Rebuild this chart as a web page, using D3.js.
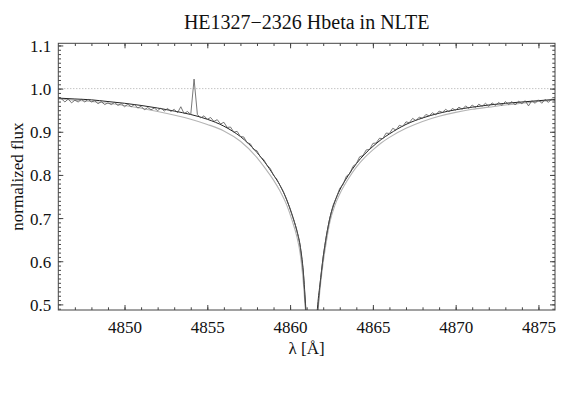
<!DOCTYPE html>
<html><head><meta charset="utf-8">
<script src="https://cdn.jsdelivr.net/npm/d3@7"></script>
<style>body{margin:0;background:#fff}svg{display:block}svg text{font-family:"Liberation Serif","Times New Roman",Times,serif !important}</style>
</head><body><div id="chart"></div>
<script>
// ---- data ----
const titleText = "HE1327\u22122326 Hbeta in NLTE";
const xLabel = "\u03bb [\u00c5]";
const yLabel = "normalized flux";
const xTicks = [4850, 4855, 4860, 4865, 4870, 4875];
const yTicks = [0.5, 0.6, 0.7, 0.8, 0.9, 1.0, 1.1];
const xDomain = [4846, 4876];
const yDomain = [0.487, 1.105];
const continuumLevel = 1.0;

// best-fit model (dark smooth line)
const modelWave = [4846,4847,4848,4849,4850,4851,4852,4853,4854,4855,4856,4856.5,4857,4857.5,4858,4858.5,4859,4859.4,4859.8,4860.1,4860.4,4860.6,4860.8,4860.95,4861.05,
  4861.55,4861.65,4861.8,4862.0,4862.2,4862.4,4862.7,4863.0,4863.5,4864.0,4864.5,4865.0,4865.5,4866,4867,4868,4869,4870,4871,4872,4873,4874,4875,4876];
const modelFlux = [0.978,0.976,0.974,0.970,0.966,0.961,0.955,0.948,0.940,0.929,0.913,0.902,0.889,0.872,0.852,0.828,0.800,0.775,0.742,0.710,0.672,0.638,0.575,0.490,0.430,
  0.430,0.490,0.545,0.610,0.660,0.700,0.738,0.765,0.798,0.826,0.848,0.866,0.882,0.895,0.917,0.932,0.943,0.951,0.957,0.962,0.966,0.969,0.972,0.975];

// comparison model (light grey line)
const altWave = [4846,4848,4850,4852,4854,4855,4856,4857,4858,4858.5,4859,4859.4,4859.8,4860.1,4860.4,4860.6,4860.8,4860.92,4861.02,
  4861.6,4861.7,4861.85,4862.0,4862.2,4862.4,4862.7,4863.0,4863.5,4864.0,4864.5,4865.0,4865.5,4866,4867,4868,4869,4870,4871,4872,4873,4874,4875,4876];
const altFlux = [0.976,0.970,0.961,0.947,0.929,0.917,0.902,0.878,0.840,0.815,0.788,0.762,0.730,0.697,0.658,0.620,0.550,0.490,0.430,
  0.430,0.490,0.550,0.597,0.647,0.690,0.729,0.756,0.790,0.818,0.840,0.858,0.874,0.887,0.908,0.924,0.936,0.945,0.952,0.957,0.962,0.966,0.970,0.973];

// observed spectrum, sampled every 0.2 A from 4846.0 to 4876.0
const obsStart = 4846.0, obsStep = 0.2;
const obsFlux = [
0.981,0.976,0.969,0.976,0.967,0.973,0.969,0.975,0.969,0.975,
0.969,0.972,0.965,0.970,0.963,0.967,0.963,0.968,0.961,0.965,
0.958,0.964,0.958,0.963,0.955,0.959,0.951,0.956,0.951,0.955,
0.949,0.955,0.948,0.954,0.947,0.952,0.944,0.958,0.942,0.947,
0.940,1.022,0.940,0.932,0.937,0.929,0.933,0.924,0.928,0.918,
0.922,0.910,0.911,0.899,0.901,0.889,0.888,0.875,0.872,0.859,
0.856,0.842,0.836,0.823,0.815,0.799,0.790,0.775,0.761,0.742,
0.722,0.698,0.673,0.638,0.575,0.450,0.450,0.450,0.450,0.543,
0.611,0.662,0.700,0.730,0.748,0.769,0.778,0.797,0.803,0.820,
0.826,0.842,0.845,0.858,0.859,0.873,0.874,0.885,0.884,0.897,
0.896,0.908,0.904,0.915,0.912,0.923,0.921,0.931,0.926,0.934,
0.931,0.940,0.937,0.944,0.939,0.948,0.945,0.952,0.946,0.954,
0.950,0.957,0.952,0.960,0.954,0.962,0.956,0.964,0.959,0.966,
0.959,0.967,0.961,0.968,0.961,0.970,0.963,0.970,0.962,0.971,
0.965,0.972,0.960,0.972,0.966,0.974,0.966,0.975,0.968,0.976,
0.972];

// ---- layout ----
const FONT = '"Liberation Serif","Times New Roman",Times,serif';
const W = 584, H = 414;
const m = {left: 58.3, right: 555, top: 43.3, bottom: 310};
const svg = d3.select("#chart").append("svg").attr("width", W).attr("height", H)
  .attr("font-family", FONT);
const x = d3.scaleLinear().domain(xDomain).range([m.left, m.right]);
const y = d3.scaleLinear().domain(yDomain).range([m.bottom, m.top]);

svg.append("clipPath").attr("id","clip").append("rect")
  .attr("x", m.left).attr("y", m.top).attr("width", m.right-m.left).attr("height", m.bottom-m.top);

const plot = svg.append("g").attr("clip-path","url(#clip)");

plot.append("line").attr("x1", m.left).attr("x2", m.right)
  .attr("y1", y(continuumLevel)).attr("y2", y(continuumLevel))
  .attr("stroke","#aaa").attr("stroke-width",1).attr("stroke-dasharray","1,2");

const line = d3.line().x(d=>x(d[0])).y(d=>y(d[1]));
const smooth = d3.line().x(d=>x(d[0])).y(d=>y(d[1])).curve(d3.curveMonotoneX);

plot.append("path").datum(altWave.map((w,i)=>[w, altFlux[i]]))
  .attr("d", smooth).attr("fill","none").attr("stroke","#b4b4b4").attr("stroke-width",1.1);
plot.append("path").datum(modelWave.map((w,i)=>[w, modelFlux[i]]))
  .attr("d", smooth).attr("fill","none").attr("stroke","#222").attr("stroke-width",1);
plot.append("path").datum(obsFlux.map((f,i)=>[obsStart + i*obsStep, f]))
  .attr("d", line).attr("fill","none").attr("stroke","#555").attr("stroke-width",0.8);

const bottomAx = d3.axisBottom(x).tickValues(xTicks).tickSize(-5).tickFormat(d3.format("d"));
const bottomMinor = d3.axisBottom(x).tickValues(d3.range(4847, 4876, 1)).tickSize(-2.7).tickFormat("");
const topAx = d3.axisTop(x).tickValues(xTicks).tickSize(-5).tickFormat("");
const topMinor = d3.axisTop(x).tickValues(d3.range(4847, 4876, 1)).tickSize(-2.7).tickFormat("");
const yMinorVals = d3.range(49, 111).map(v=>v/100);
const leftAx = d3.axisLeft(y).tickValues(yTicks).tickSize(-5).tickFormat(d3.format(".1f"));
const leftMinor = d3.axisLeft(y).tickValues(yMinorVals).tickSize(-2.7).tickFormat("");
const rightAx = d3.axisRight(y).tickValues(yTicks).tickSize(-5).tickFormat("");
const rightMinor = d3.axisRight(y).tickValues(yMinorVals).tickSize(-2.7).tickFormat("");

function styleAxis(g){
  g.attr("font-family", FONT).attr("font-size", 17);
  g.select(".domain").remove();
  g.selectAll("line").attr("stroke","#444");
  g.selectAll("text").attr("fill","#111");
}
svg.append("g").attr("transform",`translate(0,${m.bottom})`).call(bottomMinor).call(styleAxis);
svg.append("g").attr("transform",`translate(0,${m.bottom})`).call(bottomAx).call(styleAxis)
  .selectAll("text").attr("dy", null).attr("y", 23);
svg.append("g").attr("transform",`translate(0,${m.top})`).call(topMinor).call(styleAxis);
svg.append("g").attr("transform",`translate(0,${m.top})`).call(topAx).call(styleAxis);
svg.append("g").attr("transform",`translate(${m.left},0)`).call(leftMinor).call(styleAxis);
svg.append("g").attr("transform",`translate(${m.left},0)`).call(leftAx).call(styleAxis)
  .selectAll("text").attr("x", -7).attr("dy","0.35em");
svg.append("g").attr("transform",`translate(${m.right},0)`).call(rightMinor).call(styleAxis);
svg.append("g").attr("transform",`translate(${m.right},0)`).call(rightAx).call(styleAxis);

svg.append("rect").attr("x", m.left).attr("y", m.top).attr("width", m.right-m.left).attr("height", m.bottom-m.top)
  .attr("fill","none").attr("stroke","#444").attr("stroke-width",1);

svg.append("text").attr("x", (m.left+m.right)/2).attr("y", 29).attr("text-anchor","middle")
  .attr("font-size", 20).attr("fill","#111").text(titleText);
svg.append("text").attr("x", (m.left+m.right)/2).attr("y", 354).attr("text-anchor","middle")
  .attr("font-size", 17).attr("fill","#111").text(xLabel);
svg.append("text").attr("transform",`translate(23,${(m.top+m.bottom)/2}) rotate(-90)`).attr("text-anchor","middle")
  .attr("font-size", 17).attr("fill","#111").text(yLabel);

svg.selectAll("text").style("font-family", FONT);
</script></body></html>
